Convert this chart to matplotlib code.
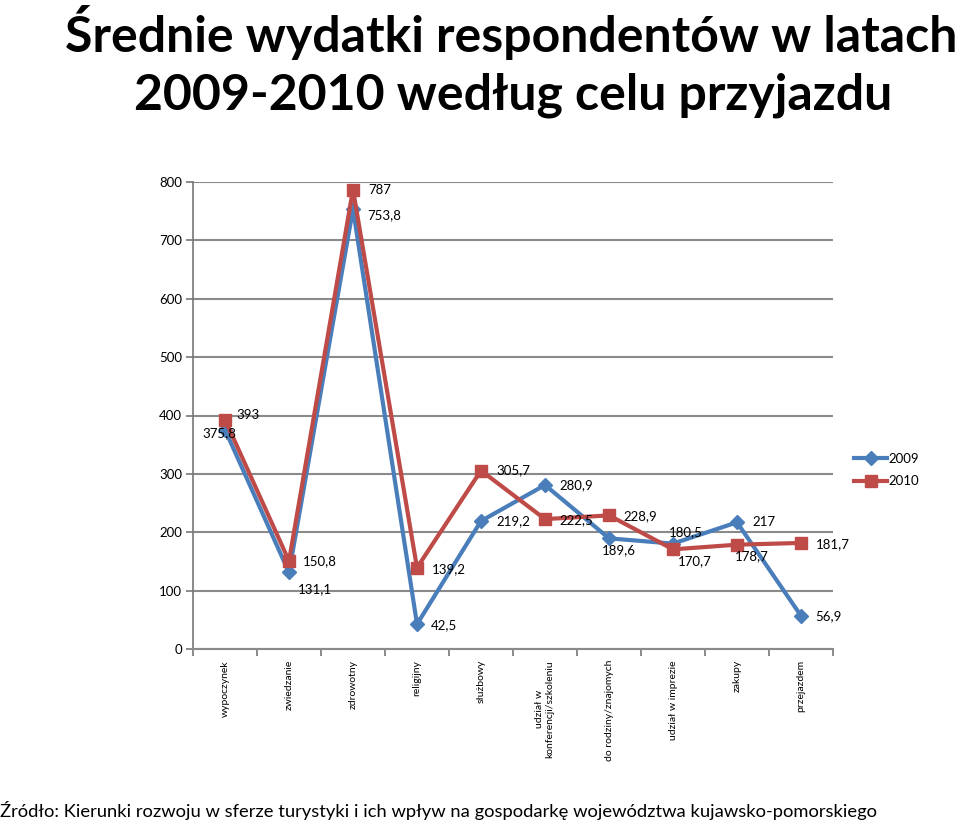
import matplotlib
matplotlib.use("Agg")
import matplotlib.pyplot as plt
import numpy as np

plt.rcParams['font.family'] = ['Lato', 'DejaVu Sans']

categories = ["wypoczynek", "zwiedzanie", "zdrowotny", "religijny", "służbowy",
              "udział w\nkonferencji/szkoleniu", "do rodziny/znajomych",
              "udział w imprezie", "zakupy", "przejazdem"]
v2009 = [375.8, 131.1, 753.8, 42.5, 219.2, 280.9, 189.6, 180.5, 217, 56.9]
v2010 = [393, 150.8, 787, 139.2, 305.7, 222.5, 228.9, 170.7, 178.7, 181.7]
series_names = ["2009", "2010"]
yticks = [0, 100, 200, 300, 400, 500, 600, 700, 800]

# label offsets in pixels (dx, dy), alignment
off2009 = [(-6, -4, 'center'), (9, -17, 'left'), (14, -6, 'left'), (14, -1, 'left'),
           (15, 0, 'left'), (14, 0, 'left'), (10, -12, 'center'), (13, 11, 'center'),
           (15, 0, 'left'), (14, 0, 'left')]
off2010 = [(11, 5, 'left'), (14, 0, 'left'), (15, 0, 'left'), (15, -1, 'left'),
           (15, 0, 'left'), (14, -1, 'left'), (14, -1, 'left'), (5, -12, 'left'),
           (-2, -11, 'left'), (15, -1, 'left')]

blue = '#4a7ebb'
red = '#be4b48'

fig = plt.figure(figsize=(9.6, 8.24), dpi=100)
ax = fig.add_axes([193/960, 1-649/824, 640/960, 467/824])

x = np.arange(len(categories))
ax.plot(x, v2009, color=blue, lw=3, marker='D', ms=7, label=series_names[0], zorder=3)
ax.plot(x, v2010, color=red, lw=3, marker='s', ms=8, label=series_names[1], zorder=4)

def fmt(v):
    return ('%g' % v).replace('.', ',')

for xi, v, (dx, dy, ha) in zip(x, v2009, off2009):
    ax.annotate(fmt(v), (xi, v), xytext=(dx, dy), textcoords='offset pixels',
                ha=ha, va='center', fontsize=9.5, color='black', zorder=5)
for xi, v, (dx, dy, ha) in zip(x, v2010, off2010):
    ax.annotate(fmt(v), (xi, v), xytext=(dx, dy), textcoords='offset pixels',
                ha=ha, va='center', fontsize=9.5, color='black', zorder=5)

ax.set_xlim(-0.5, len(categories) - 0.5)
ax.set_ylim(0, 800)
ax.set_yticks(yticks)
ax.yaxis.grid(True, color='#8a8a8a', lw=1.5)
ax.set_axisbelow(True)
ax.tick_params(axis='y', labelsize=9.5, length=5, width=1.2, color='#777777', pad=3)

ax.set_xticks(x)
ax.set_xticklabels(categories, rotation=90, fontsize=7.5, va='top', ha='center', multialignment='center')
ax.set_xticks(np.arange(len(categories) + 1) - 0.5, minor=True)
ax.tick_params(axis='x', which='major', length=0, pad=8)
ax.tick_params(axis='x', which='minor', length=5, width=1.2, color='#777777')

for s in ['top', 'right']:
    ax.spines[s].set_visible(False)
ax.spines['left'].set_color('#777777')
ax.spines['left'].set_linewidth(1.2)
ax.spines['bottom'].set_color('#8a8a8a')
ax.spines['bottom'].set_linewidth(1.5)

leg = ax.legend(loc='center left', bbox_to_anchor=(1.015, 0.383), frameon=False,
                fontsize=9.5, handlelength=2.5, labelspacing=0.8, handletextpad=0.1)

fig.text(0.532, 1-33/824, "Średnie wydatki respondentów w latach", ha='center', va='center',
         fontsize=36, fontweight='bold')
fig.text(0.534, 1-95/824, "2009-2010 według celu przyjazdu", ha='center', va='center',
         fontsize=36, fontweight='bold')
fig.text(0.0, 1-810/824, "Źródło: Kierunki rozwoju w sferze turystyki i ich wpływ na gospodarkę województwa kujawsko-pomorskiego",
         ha='left', va='center', fontsize=13.2)

fig.savefig('out.png', dpi=100)
